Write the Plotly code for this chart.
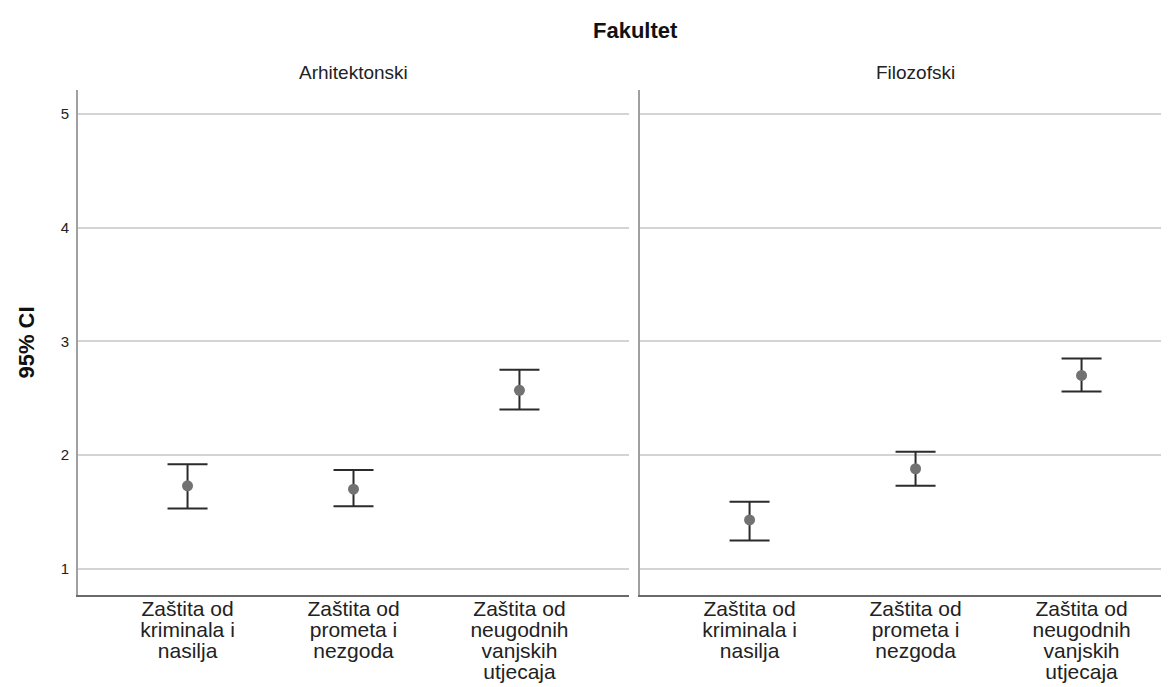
import plotly.graph_objects as go

# ---- data ----
category_lines = [
    ["Zaštita od", "kriminala i", "nasilja"],
    ["Zaštita od", "prometa i", "nezgoda"],
    ["Zaštita od", "neugodnih", "vanjskih", "utjecaja"],
]
panels = ["Arhitektonski", "Filozofski"]
arh_mean = [1.73, 1.70, 2.57]
arh_low = [1.53, 1.55, 2.40]
arh_high = [1.92, 1.87, 2.75]
fil_mean = [1.43, 1.88, 2.70]
fil_low = [1.25, 1.73, 2.56]
fil_high = [1.59, 2.03, 2.85]
y_ticks = [1, 2, 3, 4, 5]

FONT = "Liberation Sans, Arial, sans-serif"
W, H = 1169, 687
L, R, T, B = 70, 0, 82, 100
pw = W - L - R
ph = H - T - B

def px_x(p):
    return (p - L) / pw

xpos = list(range(len(category_lines)))
ticktext = ["<br>".join('<span style="font-size:21px">%s</span>' % s for s in lines)
            for lines in category_lines]

fig = go.Figure()
for i, (m, lo, hi) in enumerate([(arh_mean, arh_low, arh_high), (fil_mean, fil_low, fil_high)]):
    suffix = "" if i == 0 else "2"
    fig.add_trace(go.Scatter(
        x=xpos, y=m, mode="markers",
        marker=dict(color="#727272", size=11),
        error_y=dict(type="data", symmetric=False,
                     array=[h - v for h, v in zip(hi, m)],
                     arrayminus=[v - l for v, l in zip(m, lo)],
                     color="#2b2b2b", thickness=2, width=20),
        xaxis="x" + suffix, yaxis="y" + suffix, showlegend=False,
        hoverinfo="skip",
    ))

yr = [0.77, 5.21]
common_y = dict(range=yr, tickvals=y_ticks, showgrid=True, gridcolor="#d4d4d4",
                gridwidth=2, zeroline=False, showline=True, linecolor="#a0a0a0",
                linewidth=2, ticks="", fixedrange=True)
common_x = dict(tickvals=xpos, ticktext=ticktext, showgrid=False, zeroline=False,
                showline=True, linecolor="#6a6a6a", linewidth=2, ticks="",
                tickfont=dict(size=16, color="#222", family=FONT))

fig.update_layout(
    width=W, height=H,
    margin=dict(l=L, r=R, t=T, b=B),
    paper_bgcolor="white", plot_bgcolor="white",
    font=dict(family=FONT, color="#222"),
    xaxis=dict(domain=[0, px_x(621)], range=[-0.66, 2.66], anchor="y", **common_x),
    xaxis2=dict(domain=[px_x(632), 1], range=[-0.66, 2.575], anchor="y2", **common_x),
    yaxis=dict(domain=[0, 1], anchor="x", tickfont=dict(size=15, color="#222", family=FONT),
               ticklabelstandoff=4,
               title=dict(text="<b>95% CI</b>", font=dict(size=22, color="#111"), standoff=20),
               **common_y),
    yaxis2=dict(domain=[0, 1], anchor="x2", showticklabels=False, **common_y),
    showlegend=False,
)

fig.add_annotation(text="<b>Fakultet</b>", xref="paper", yref="paper",
                   x=px_x(627), y=1 + (T - 22.5) / ph, xanchor="center", yanchor="middle",
                   showarrow=False, font=dict(size=22, color="#111", family=FONT))
centers = [345.5, 907.5]
for name, c in zip(panels, centers):
    fig.add_annotation(text=name, xref="paper", yref="paper",
                       x=px_x(c), y=1 + (T - 64.5) / ph, xanchor="center", yanchor="middle",
                       showarrow=False, font=dict(size=19, color="#222", family=FONT))

fig.write_html("out.html")
